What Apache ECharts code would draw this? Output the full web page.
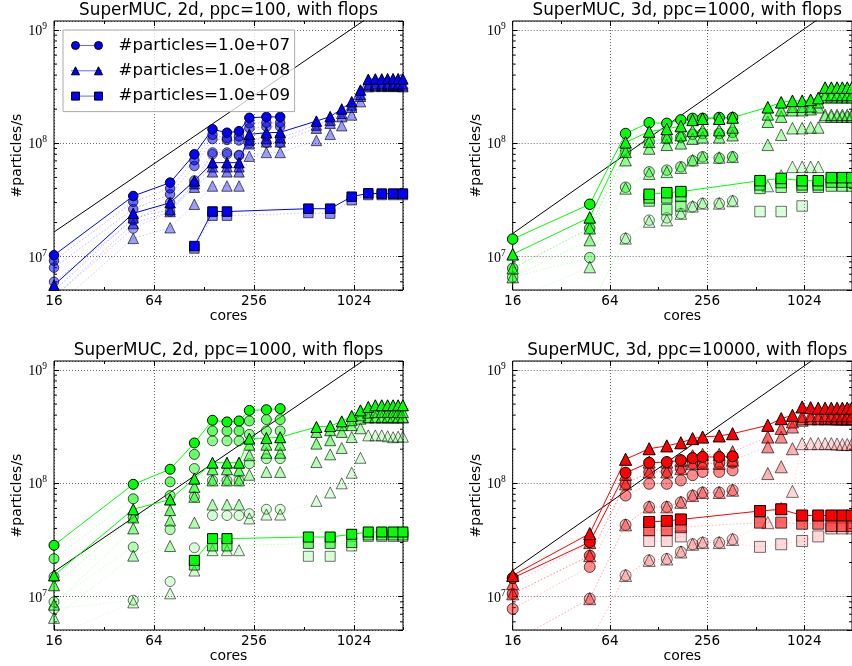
<!DOCTYPE html>
<html>
<head>
<meta charset="utf-8">
<title>SuperMUC scaling</title>
<script src="https://cdn.jsdelivr.net/npm/echarts@6/dist/echarts.min.js"></script>
<style>
    html, body { margin: 0; padding: 0; background: #fff; }
    #main { width: 852px; height: 666px; }
</style>
</head>
<body>
<div id="main"></div>
<script>
    // core counts of the runs
    var coresCirc = [16, 48, 80, 112, 144, 176, 208, 240, 304, 368];
    var coresTri = [16, 48, 80, 112, 144, 176, 208, 240, 304, 368, 608, 736, 864, 992, 1120, 1248, 1376, 1504, 1632, 1760, 1888, 2016];
    var coresSq = [112, 144, 176, 544, 736, 992, 1248, 1504, 1760, 2016];

    var legendNames = ['#particles=1.0e+07', '#particles=1.0e+08', '#particles=1.0e+09'];

    // particles/s in millions; first row = best run (solid), other rows = the other runs
    var tlCirc = [
        [10.3, 34.3, 45, 80, 133, 124, 128, 168, 171, 171],
        [9.2, 30.5, 40, 71, 119, 111, 115, 150, 152, 152],
        [8.0, 26.3, 35.5, 63, 109, 107, 106, 136, 140, 140],
        [6.0, 20.9, 30, 47, 83, 83, 79, 107, 115, 112],
        [4.4, 17.7, 25, 44, 80, 80, 78, 100, 101, 101]
    ];
    var tlTri = [
        [5.6, 24.1, 29.9, 46.6, 67.5, 67.5, 67.5, 120, 124, 125, 157, 172, 201, 233, 295, 367, 370, 370, 372, 372, 372, 370],
        [5.0, 22, 26, 44, 62, 62, 62, 107, 110, 112, 145, 160, 184, 218, 270, 330, 335, 335, 335, 335, 335, 335],
        [4.4, 19.6, 25, 41, 56, 56, 56, 99, 103, 103, 136, 150, 172, 208, 260, 322, 325, 325, 325, 325, 325, 322],
        [3.5, 14.5, 18, 29, 42, 42, 42, 77, 83, 83, 106, 120, 143, 178, 233, 316, 318, 318, 318, 318, 318, 316]
    ];
    var tlSq = [
        [12.4, 25, 25, 26.5, 26.5, 33.8, 36.2, 36, 36, 36],
        [11.8, 23, 23, 24.3, 24, 31.5, 35, 35, 35, 35]
    ];

    var trCirc = [
        [14.3, 29, 122, 152, 150, 161, 166, 166, 169, 169],
        [7.9, 17.8, 84, 103, 110, 113, 120, 122, 122, 125],
        [6.6, 9.8, 41, 56, 58, 62, 70, 76, 74, 76],
        [3.5, 3.5, 14.5, 21, 22, 24, 27.5, 29.5, 29.5, 31]
    ];
    var trTri = [
        [10.5, 22.2, 102, 127, 134, 142, 161, 165, 165, 169, 208, 230, 237, 237, 242, 251, 310, 310, 310, 310, 310, 310],
        [7.9, 17.8, 84, 103, 113, 118, 129, 131, 131, 138, 180, 196, 210, 210, 212, 230, 267, 267, 267, 267, 267, 267],
        [6.6, 14, 71, 90, 97, 100, 110, 113, 113, 118, 155, 172, 196, 196, 200, 208, 255, 255, 255, 255, 255, 255],
        [4.2, 8.1, 40, 54, 56, 61, 71, 75, 75, 76, 97, 119, 136, 136, 138, 138, 178, 178, 178, 178, 178, 178],
        [2.5, 3.5, 14.5, 20.4, 21, 24, 27.8, 29.5, 29.5, 31, 42, 52, 62, 62, 62, 62, 172, 172, 172, 172, 172, 172]
    ];
    var trSq = [
        [35.5, 36.7, 37.5, 46.8, 49, 46.8, 46.8, 49.8, 49.8, 49.8],
        [33, 33, 34, 43, 45, 43, 43, 45.5, 45.5, 45.5],
        [31, 26, 28, 40, 41, 41, 41, 42, 42, 42],
        [null, null, null, 25, 25, 28, null, null, null, null]
    ];

    var blCirc = [
        [28.4, 98, 133, 227, 360, 348, 355, 440, 446, 456],
        [21.6, 73, 103, 180, 290, 290, 290, 355, 365, 365],
        [15, 50, 78, 135, 237, 237, 237, 270, 290, 290],
        [9, 27.4, 39, 76, 106, 106, 106, 149, 165, 165],
        [7.8, 9.3, 13.6, 27, 52, 52, 52, 54, 59, 59]
    ];
    var blTri = [
        [15.4, 59, 72, 110, 152, 152, 152, 248, 251, 255, 314, 320, 352, 393, 440, 472, 488, 488, 488, 488, 488, 488],
        [12.6, 50, 58, 93, 133, 133, 130, 219, 219, 219, 284, 294, 326, 360, 398, 420, 425, 425, 425, 425, 425, 425],
        [8.5, 40, 47, 76, 106, 106, 106, 177, 186, 186, 224, 240, 284, 326, 372, 385, 385, 385, 385, 385, 385, 385],
        [6.5, 23, 28, 45, 65, 65, 65, 119, 126, 126, 154, 180, 205, 256, 306, 380, 380, 380, 380, 380, 380, 380],
        [4.5, 8.9, 10.7, 17, 25.7, 25.7, 25.7, 49, 53, 53, 70, 83, 100, 124, 168, 265, 265, 265, 260, 255, 258, 258]
    ];
    var blSq = [
        [20.9, 32.5, 32.5, 33.6, 33.6, 35.5, 37.2, 37.2, 37.2, 37.2],
        [19, 28, 28, 29.5, 29.5, 30, 35, 35, 35, 35],
        [null, null, null, 22.7, 22.7, 28, 34, 34, 34, 34]
    ];

    var brCirc = [
        [14.6, 30.3, 124, 152, 154, 160, 167, 171, 171, 173],
        [10.6, 23, 99, 126, 126, 135, 149, 150, 150, 152],
        [7.8, 18.3, 78, 99, 99, 106, 118, 126, 126, 130],
        [4, 9.6, 43, 62, 62, 68, 78, 83, 83, 87],
        [2.5, 4, 15.4, 20.9, 21.5, 24.8, 29, 30, 30, 32]
    ];
    var brTri = [
        [15.4, 36, 163, 202, 214, 228, 248, 256, 262, 274, 325, 372, 398, 472, 465, 460, 460, 460, 460, 460, 460, 460],
        [13, 30, 120, 154, 154, 160, 175, 180, 180, 190, 256, 305, 348, 390, 395, 395, 395, 395, 395, 395, 395, 395],
        [10.6, 23, 99, 126, 126, 135, 149, 150, 150, 160, 210, 256, 314, 370, 375, 375, 375, 375, 375, 375, 375, 375],
        [4, 9.6, 43, 62, 62, 68, 78, 83, 83, 87, 122, 140, 202, 360, 370, 370, 370, 370, 368, 368, 368, 368],
        [2.5, 4, 15.4, 20.9, 21.5, 24.8, 29, 30, 30, 32, 45, 60, 85, 224, 224, 224, 224, 224, 222, 220, 220, 220]
    ];
    var brSq = [
        [45.6, 46.6, 48, 57, 59, 52, 52, 52, 52, 52],
        [38.5, 38.5, 41, 45, 45, 44, 44, 42, 42, 42],
        [31, 31, 34, 27.5, 29, 31, 34, 40, 40, 40]
    ];

    // ideal scaling line, particles/s (millions) at 16 cores
    var idealAt16 = [16.5, 16.0, 16.6, 17.0];

    var titles = [
        'SuperMUC, 2d, ppc=100, with flops',
        'SuperMUC, 3d, ppc=1000, with flops',
        'SuperMUC, 2d, ppc=1000, with flops',
        'SuperMUC, 3d, ppc=10000, with flops'
    ];

    var yMinorTicks = [6e6, 7e6, 8e6, 9e6, 2e7, 3e7, 4e7, 5e7, 6e7, 7e7, 8e7, 9e7,
        2e8, 3e8, 4e8, 5e8, 6e8, 7e8, 8e8, 9e8];

    var panels = [
        { circ: tlCirc, tri: tlTri, sq: tlSq, col: [0, 0, 255], left: 54, top: 21, size: 9.5, minAlpha: 0.38 },
        { circ: trCirc, tri: trTri, sq: trSq, col: [0, 255, 0], left: 512.7, top: 21, size: 10.5, minAlpha: 0.15 },
        { circ: blCirc, tri: blTri, sq: blSq, col: [0, 255, 0], left: 54, top: 361, size: 10, minAlpha: 0.15 },
        { circ: brCirc, tri: brTri, sq: brSq, col: [255, 0, 0], left: 512.7, top: 361, size: 11, minAlpha: 0.15 }
    ];
    var shapeScale = { circle: 1, triangle: 1.1, rect: 1 };

    var W = 349, H = 269;
    var XMIN = 4, XMAX = 10.98;        // log2(cores)
    var YMIN = 5.08e6, YMAX = 1.2e9;
    var sans = 'DejaVu Sans';

    function rgba(c, a) {
        return 'rgba(' + c[0] + ',' + c[1] + ',' + c[2] + ',' + a + ')';
    }

    // fill opacity of run k out of n (k = 0 is the best run)
    function runAlpha(k, n, lo) {
        if (k === 0) return 1;
        if (n <= 2) return 0.45;
        return lo + (0.6 - lo) * (n - 1 - k) / (n - 2);
    }

    var grids = [], xAxes = [], yAxes = [], series = [], titleOpts = [];

    function addRun(gi, name, cores, vals, symbol, col, a, main, size) {
        var pts = [];
        cores.forEach(function (c, i) {
            if (vals[i] != null) pts.push([Math.log2(c), vals[i] * 1e6]);
        });
        series.push({
            type: 'line',
            name: name,
            xAxisIndex: gi * 4,
            yAxisIndex: gi * 2,
            data: pts,
            symbol: symbol,
            symbolSize: size * shapeScale[symbol],
            showSymbol: true,
            showAllSymbol: true,
            lineStyle: main
                ? { color: rgba(col, 1), width: 1 }
                : { color: rgba(col, 0.3 * a + 0.1), width: 1, type: [1.5, 2] },
            itemStyle: {
                color: rgba(col, a),
                borderColor: rgba([0, 0, 0], main ? 1 : 0.5 + 0.35 * a),
                borderWidth: 1
            },
            z: main ? 4 : 3,
            silent: true,
            animation: false
        });
    }

    panels.forEach(function (p, gi) {
        grids.push({
            left: p.left, top: p.top, width: W, height: H,
            show: true, borderColor: '#000', borderWidth: 1,
            backgroundColor: 'transparent'
        });

        titleOpts.push({
            text: titles[gi],
            left: p.left + W / 2,
            top: p.top - 19,
            textAlign: 'center',
            padding: 0,
            textStyle: { fontFamily: sans, fontSize: 16.8, fontWeight: 'normal', color: '#000' }
        });

        // major x axis (bottom), top mirror, and minor tick axes
        xAxes.push({
            gridIndex: gi, type: 'value', position: 'bottom',
            min: XMIN, max: XMAX, interval: 2,
            name: 'cores', nameLocation: 'middle', nameGap: 19,
            nameTextStyle: { fontFamily: sans, fontSize: 14, color: '#000' },
            axisLine: { show: false },
            axisTick: { inside: true, length: 5, lineStyle: { color: '#000' } },
            axisLabel: {
                margin: 4, fontFamily: sans, fontSize: 13.6, color: '#000',
                showMaxLabel: false,
                formatter: function (v) { return String(Math.round(Math.pow(2, v))); }
            },
            splitLine: { show: true, lineStyle: { color: '#000', width: 0.6, type: [1, 2] } }
        });
        xAxes.push({
            gridIndex: gi, type: 'value', position: 'top',
            min: XMIN, max: XMAX, interval: 2,
            axisLine: { show: false },
            axisTick: { inside: true, length: 5, lineStyle: { color: '#000' } },
            axisLabel: { show: false },
            splitLine: { show: false }
        });
        ['bottom', 'top'].forEach(function (pos) {
            xAxes.push({
                gridIndex: gi, type: 'value', position: pos,
                min: XMIN, max: XMAX, interval: 1,
                axisLine: { show: false },
                axisTick: { inside: true, length: 3, lineStyle: { color: '#000' } },
                axisLabel: { show: false },
                splitLine: { show: false }
            });
        });

        yAxes.push({
            gridIndex: gi, type: 'log', logBase: 10, position: 'left',
            min: YMIN, max: YMAX,
            name: '#particles/s', nameLocation: 'middle', nameGap: 29,
            nameTextStyle: { fontFamily: sans, fontSize: 14, color: '#000' },
            axisLine: { show: false },
            axisTick: { inside: true, length: 5, lineStyle: { color: '#000' } },
            axisLabel: {
                margin: 7, showMinLabel: false, showMaxLabel: false,
                formatter: function (v) {
                    return '{b|10}{s|' + Math.round(Math.log10(v)) + '}';
                },
                rich: {
                    b: { fontFamily: 'Liberation Serif', fontSize: 14, color: '#000', lineHeight: 17, verticalAlign: 'bottom' },
                    s: { fontFamily: 'Liberation Serif', fontSize: 9.5, color: '#000', lineHeight: 17, verticalAlign: 'top' }
                }
            },
            splitLine: { show: true, lineStyle: { color: '#000', width: 0.6, type: [1, 2] } }
        });
        yAxes.push({
            gridIndex: gi, type: 'log', logBase: 10, position: 'right',
            min: YMIN, max: YMAX,
            axisLine: { show: false },
            axisTick: { inside: true, length: 5, lineStyle: { color: '#000' } },
            axisLabel: { show: false },
            splitLine: { show: false }
        });

        // minor log ticks on both sides
        series.push({
            type: 'custom',
            xAxisIndex: gi * 4, yAxisIndex: gi * 2,
            data: yMinorTicks.map(function (v) { return [XMIN, v]; }),
            silent: true, animation: false, z: 1,
            renderItem: function (params, api) {
                var pl = api.coord([XMIN, api.value(1)]);
                var pr = api.coord([XMAX, api.value(1)]);
                return {
                    type: 'group',
                    children: [
                        { type: 'line', shape: { x1: pl[0], y1: pl[1], x2: pl[0] + 3, y2: pl[1] }, style: { stroke: '#000', lineWidth: 1 } },
                        { type: 'line', shape: { x1: pr[0], y1: pr[1], x2: pr[0] - 3, y2: pr[1] }, style: { stroke: '#000', lineWidth: 1 } }
                    ]
                };
            }
        });

        // ideal linear scaling
        series.push({
            type: 'line',
            xAxisIndex: gi * 4, yAxisIndex: gi * 2,
            data: [16, 4096].map(function (c) { return [Math.log2(c), idealAt16[gi] * 1e6 * c / 16]; }),
            symbol: 'none',
            lineStyle: { color: '#000', width: 1 },
            z: 2, silent: true, animation: false, clip: true
        });

        var names = gi === 0 ? legendNames : ['c' + gi, 't' + gi, 's' + gi];
        var groups = [[p.circ, coresCirc, 'circle'], [p.tri, coresTri, 'triangle'], [p.sq, coresSq, 'rect']];
        // lighter runs first, best runs on top
        groups.forEach(function (g) {
            for (var k = g[0].length - 1; k >= 1; k--) {
                addRun(gi, g[2] + gi + '_' + k, g[1], g[0][k], g[2], p.col,
                    runAlpha(k, g[0].length, p.minAlpha), false, p.size);
            }
        });
        groups.forEach(function (g, j) {
            addRun(gi, names[j], g[1], g[0][0], g[2], p.col, 1, true, p.size);
        });
    });

    var markerIcons = [
        'path://M0,4A4,4 0 1,1 8,4A4,4 0 1,1 0,4Z M23,4A4,4 0 1,1 31,4A4,4 0 1,1 23,4Z',
        'path://M0,8L4,0L8,8Z M23,8L27,0L31,8Z',
        'path://M0,0H8V8H0Z M23,0H31V8H23Z'
    ];
    var lineIcon = 'path://M0,3.5H31V4.5H0Z';

    var legendBase = {
        orient: 'vertical', left: 63, top: 30,
        padding: [7, 5, 7, 8], itemGap: 8.3,
        itemWidth: 31, itemHeight: 8,
        selectedMode: false
    };
    var legendLine = Object.assign({}, legendBase, {
        z: 10,
        backgroundColor: 'rgba(255,255,255,0.75)',
        borderColor: '#aaa', borderWidth: 1,
        data: legendNames.map(function (n) { return { name: n, icon: lineIcon }; }),
        itemStyle: { color: 'rgba(40,40,255,0.7)', borderWidth: 0 },
        textStyle: { fontFamily: sans, fontSize: 16.7, color: 'rgba(0,0,0,0)', padding: [0, 0, 0, 11] }
    });
    var legendMarks = Object.assign({}, legendBase, {
        z: 11,
        data: legendNames.map(function (n, i) { return { name: n, icon: markerIcons[i] }; }),
        itemStyle: { color: '#0000ff', borderColor: '#000', borderWidth: 1 },
        textStyle: { fontFamily: sans, fontSize: 16.7, color: '#000', padding: [0, 0, 0, 11] }
    });

    var chart = echarts.init(document.getElementById('main'), null, { renderer: 'canvas' });
    chart.setOption({
        animation: false,
        backgroundColor: '#fff',
        title: titleOpts,
        legend: [legendLine, legendMarks],
        grid: grids,
        xAxis: xAxes,
        yAxis: yAxes,
        series: series
    });
</script>
</body>
</html>
